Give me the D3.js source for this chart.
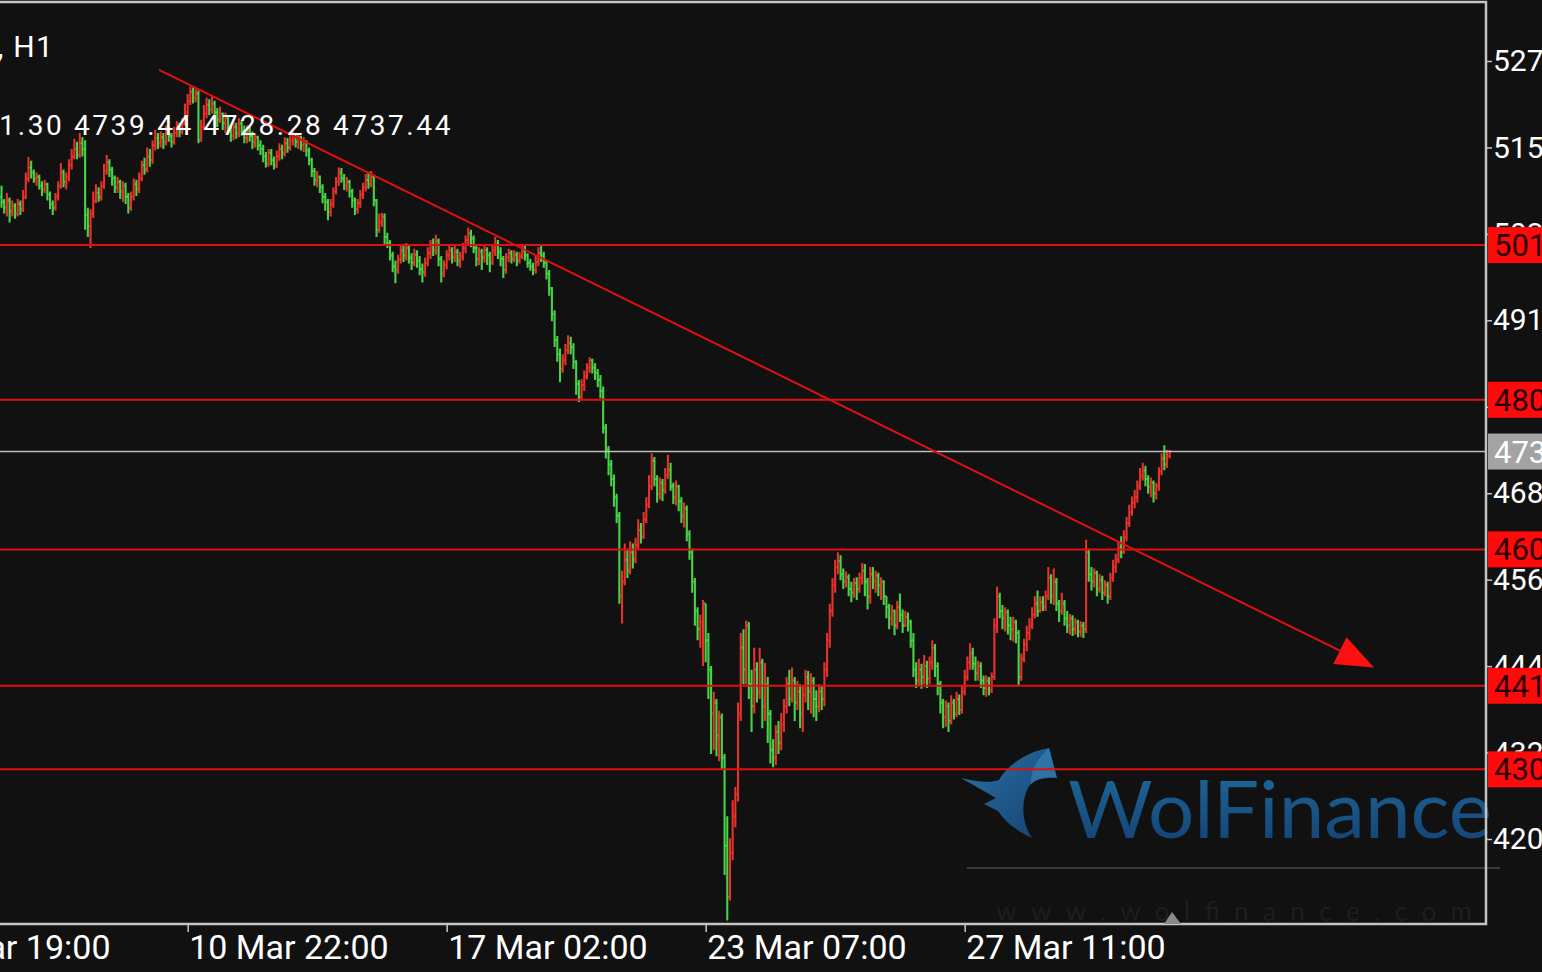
<!DOCTYPE html>
<html><head><meta charset="utf-8">
<script src="https://cdn.jsdelivr.net/npm/d3@7"></script>
<style>html,body{margin:0;padding:0;background:#111111;overflow:hidden}svg{display:block}</style>
</head><body>
<svg id="chart" width="1542" height="972"></svg>
<script>
// ---------------- DATA ----------------
const symbolTitle = "XAUUSD, H1";
const headerOHLC = "4731.30 4739.44 4728.28 4737.44";

const open = [
5085,5078,5070,5080,5065,5072,5062,5075,5068,5085,
5110,5125,5118,5110,5112,5100,5095,5102,5088,5075,
5070,5085,5100,5118,5105,5112,5128,5140,5150,5142,
5158,5150,5060,5045,5062,5080,5090,5084,5100,5120,
5132,5122,5110,5098,5105,5092,5100,5085,5070,5085,
5102,5096,5110,5128,5122,5140,5135,5155,5165,5158,
5166,5160,5175,5168,5160,5172,5180,5174,5185,5200,
5215,5228,5220,5226,5162,5180,5198,5210,5204,5212,
5200,5190,5198,5185,5192,5178,5168,5180,5172,5185,
5175,5165,5175,5168,5160,5166,5155,5150,5140,5130,
5145,5135,5128,5140,5150,5144,5158,5152,5162,5170,
5160,5166,5155,5160,5148,5135,5120,5108,5112,5098,
5085,5078,5064,5075,5092,5105,5118,5110,5100,5105,
5092,5080,5068,5076,5088,5098,5108,5102,5112,5080,
5040,5050,5058,5030,5022,5005,4990,4985,5000,5012,
5005,5015,5002,4995,5006,4998,4986,4982,4995,5008,
5020,5012,5025,5000,4980,4992,5005,5012,5002,5010,
4998,5004,5015,5026,5035,5028,5015,5000,5010,5002,
5012,5005,4995,5012,5020,5010,5000,4985,5002,5008,
5000,5006,4998,5004,5012,5005,4995,4990,4985,4996,
5008,5005,4995,4980,4960,4925,4890,4870,4850,4862,
4876,4885,4880,4860,4830,4812,4828,4840,4852,4862,
4852,4845,4835,4820,4770,4740,4720,4700,4675,4650,
4540,4560,4590,4575,4600,4590,4610,4630,4622,4645,
4665,4690,4725,4700,4680,4695,4685,4705,4712,4690,
4675,4690,4670,4650,4660,4625,4600,4560,4520,4495,
4505,4530,4480,4440,4380,4395,4350,4375,4320,4200,
4130,4190,4240,4270,4380,4470,4440,4500,4420,4390,
4440,4410,4450,4390,4420,4380,4330,4320,4355,4340,
4365,4390,4420,4400,4425,4395,4410,4380,4405,4430,
4410,4425,4400,4390,4410,4400,4440,4480,4520,4555,
4580,4588,4570,4560,4566,4550,4545,4558,4550,4565,
4575,4560,4540,4570,4560,4568,4555,4560,4540,4525,
4510,4520,4500,4525,4515,4500,4512,4505,4480,4440,
4425,4440,4430,4445,4428,4450,4470,4445,4420,4395,
4375,4390,4370,4395,4380,4400,4385,4410,4430,4450,
4462,4448,4435,4445,4425,4415,4425,4412,4430,4500,
4540,4520,4510,4518,4500,4495,4505,4490,4430,4455,
4475,4490,4500,4515,4530,4520,4532,4525,4540,4565,
4540,4560,4530,4520,4530,4510,4500,4510,4495,4505,
4492,4500,4495,4600,4570,4560,4572,4550,4562,4545,
4555,4540,4565,4580,4590,4605,4600,4620,4640,4655,
4668,4675,4690,4705,4712,4700,4690,4695,4680,4690,
4710,4728,4720,4731.3];

const high = [
5100,5082,5090,5084,5080,5076,5082,5080,5094,5118,
5139,5134,5122,5118,5115,5106,5108,5104,5092,5080,
5090,5106,5131,5122,5118,5136,5150,5164,5160,5172,
5166,5162,5070,5068,5092,5102,5098,5106,5130,5142,
5136,5126,5114,5112,5108,5106,5104,5090,5092,5110,
5108,5118,5134,5138,5152,5150,5162,5176,5172,5174,
5172,5182,5180,5172,5180,5188,5186,5192,5212,5225,
5235,5234,5232,5230,5190,5210,5220,5218,5222,5216,
5206,5208,5200,5200,5196,5184,5188,5186,5192,5190,
5182,5182,5180,5174,5172,5168,5162,5156,5146,5150,
5150,5140,5148,5158,5156,5166,5165,5172,5178,5172,
5170,5168,5166,5162,5152,5138,5124,5120,5114,5102,
5090,5082,5082,5098,5112,5125,5124,5116,5112,5108,
5096,5084,5082,5094,5104,5116,5119,5120,5114,5082,
5062,5063,5062,5036,5026,5010,4998,5006,5020,5018,
5022,5020,5008,5014,5012,5004,4994,5002,5016,5026,
5028,5033,5028,5004,4998,5012,5020,5016,5018,5014,
5010,5022,5032,5043,5040,5032,5020,5016,5014,5020,
5016,5010,5018,5030,5026,5016,5004,5008,5014,5012,
5012,5010,5010,5018,5018,5008,5000,4995,5004,5016,
5018,5010,4998,4985,4962,4930,4895,4878,4870,4884,
4896,4894,4885,4862,4835,4836,4848,4858,4866,4864,
4858,4850,4842,4826,4775,4745,4726,4706,4680,4655,
4575,4612,4605,4615,4612,4620,4645,4640,4655,4675,
4705,4735,4730,4705,4702,4700,4715,4733,4722,4695,
4698,4692,4675,4668,4664,4630,4605,4565,4525,4515,
4535,4530,4490,4445,4410,4400,4384,4380,4325,4240,
4210,4262,4280,4395,4490,4495,4507,4505,4440,4470,
4450,4470,4455,4449,4430,4385,4345,4364,4370,4381,
4400,4430,4440,4443,4430,4425,4420,4418,4440,4438,
4435,4430,4412,4420,4418,4450,4490,4530,4565,4590,
4600,4596,4578,4574,4570,4560,4565,4566,4572,4585,
4584,4565,4580,4580,4575,4572,4566,4562,4540,4530,
4528,4522,4534,4544,4522,4520,4518,4508,4490,4450,
4455,4448,4460,4452,4458,4480,4475,4450,4425,4400,
4398,4395,4405,4400,4410,4406,4418,4440,4458,4476,
4470,4458,4452,4450,4432,4432,4430,4436,4510,4553,
4545,4528,4525,4522,4512,4512,4508,4494,4462,4482,
4500,4510,4525,4540,4548,4540,4540,4548,4580,4570,
4578,4565,4535,4545,4535,4520,4516,4514,4510,4508,
4506,4505,4617,4605,4580,4578,4575,4570,4568,4562,
4560,4572,4590,4598,4615,4622,4630,4648,4665,4676,
4685,4698,4715,4722,4718,4705,4702,4698,4695,4716,
4735,4746,4740,4739.44];

const low = [
5070,5062,5058,5050,5058,5055,5058,5060,5064,5082,
5105,5110,5104,5100,5095,5086,5090,5080,5068,5060,
5066,5080,5096,5098,5095,5106,5122,5136,5136,5138,
5140,5040,5030,5015,5056,5076,5078,5080,5096,5115,
5112,5100,5090,5090,5082,5078,5075,5062,5066,5080,
5086,5090,5106,5115,5118,5126,5130,5148,5150,5152,
5150,5155,5160,5152,5156,5166,5166,5170,5182,5195,
5210,5212,5214,5158,5160,5176,5192,5196,5198,5192,
5180,5186,5176,5172,5170,5160,5162,5164,5166,5168,
5158,5158,5160,5150,5152,5148,5142,5132,5125,5126,
5128,5122,5124,5134,5136,5140,5145,5148,5155,5152,
5150,5148,5146,5140,5128,5112,5100,5098,5090,5076,
5066,5053,5058,5070,5088,5100,5104,5094,5092,5084,
5070,5060,5062,5070,5082,5092,5096,5098,5072,5030,
5036,5044,5020,5015,4998,4982,4967,4980,4994,4996,
4998,4994,4985,4990,4988,4978,4968,4976,4990,5000,
5004,5006,4990,4968,4975,4986,4998,4994,4996,4990,
4988,4998,5008,5018,5016,5008,4990,4992,4985,4995,
4992,4982,4992,5004,5000,4990,4974,4980,4996,4994,
4996,4990,4994,5000,4998,4988,4984,4978,4980,4990,
4996,4988,4972,4950,4915,4880,4860,4832,4845,4855,
4870,4870,4850,4815,4805,4808,4820,4836,4845,4844,
4835,4825,4810,4762,4728,4705,4690,4662,4640,4530,
4503,4555,4565,4570,4578,4585,4604,4612,4618,4640,
4660,4685,4690,4668,4672,4670,4680,4700,4684,4666,
4664,4656,4640,4634,4615,4590,4545,4500,4480,4470,
4445,4450,4400,4325,4330,4322,4315,4303,4160,4098,
4125,4180,4225,4260,4370,4420,4420,4400,4355,4380,
4395,4400,4360,4370,4340,4312,4307,4310,4325,4330,
4355,4380,4390,4395,4370,4385,4360,4355,4395,4385,
4380,4375,4370,4382,4385,4390,4430,4470,4512,4545,
4570,4562,4550,4552,4540,4532,4538,4535,4545,4556,
4540,4522,4530,4550,4545,4540,4535,4528,4510,4495,
4500,4487,4495,4505,4490,4498,4492,4470,4430,4415,
4418,4414,4420,4415,4420,4440,4430,4405,4380,4360,
4362,4355,4365,4372,4375,4378,4380,4405,4425,4440,
4440,4425,4425,4415,4405,4403,4405,4408,4426,4490,
4510,4495,4492,4488,4480,4478,4476,4419,4425,4450,
4465,4480,4495,4510,4512,4518,4520,4520,4535,4530,
4528,4520,4505,4515,4500,4490,4488,4486,4488,4484,
4485,4483,4490,4560,4548,4552,4540,4545,4535,4540,
4530,4535,4560,4572,4585,4592,4598,4615,4635,4650,
4660,4668,4685,4698,4690,4680,4675,4668,4672,4684,
4705,4712,4715,4728.28];

const close = [
5078,5070,5080,5065,5072,5062,5075,5068,5085,5110,
5125,5118,5110,5112,5100,5095,5102,5088,5075,5070,
5085,5100,5118,5105,5112,5128,5140,5150,5142,5158,
5150,5060,5045,5062,5080,5090,5084,5100,5120,5132,
5122,5110,5098,5105,5092,5100,5085,5070,5085,5102,
5096,5110,5128,5122,5140,5135,5155,5165,5158,5166,
5160,5175,5168,5160,5172,5180,5174,5185,5200,5215,
5228,5220,5226,5162,5180,5198,5210,5204,5212,5200,
5190,5198,5185,5192,5178,5168,5180,5172,5185,5175,
5165,5175,5168,5160,5166,5155,5150,5140,5130,5145,
5135,5128,5140,5150,5144,5158,5152,5162,5170,5160,
5166,5155,5160,5148,5135,5120,5108,5112,5098,5085,
5078,5064,5075,5092,5105,5118,5110,5100,5105,5092,
5080,5068,5076,5088,5098,5108,5102,5112,5080,5040,
5050,5058,5030,5022,5005,4990,4985,5000,5012,5005,
5015,5002,4995,5006,4998,4986,4982,4995,5008,5020,
5012,5025,5000,4980,4992,5005,5012,5002,5010,4998,
5004,5015,5026,5035,5028,5015,5000,5010,5002,5012,
5005,4995,5012,5020,5010,5000,4985,5002,5008,5000,
5006,4998,5004,5012,5005,4995,4990,4985,4996,5008,
5005,4995,4980,4960,4925,4890,4870,4850,4862,4876,
4885,4880,4860,4830,4812,4828,4840,4852,4862,4852,
4845,4835,4820,4770,4740,4720,4700,4675,4650,4540,
4560,4590,4575,4600,4590,4610,4630,4622,4645,4665,
4690,4725,4700,4680,4695,4685,4705,4712,4690,4675,
4690,4670,4650,4660,4625,4600,4560,4520,4495,4505,
4530,4480,4440,4380,4395,4350,4375,4320,4200,4130,
4190,4240,4270,4380,4470,4440,4500,4420,4390,4440,
4410,4450,4390,4420,4380,4330,4320,4355,4340,4365,
4390,4420,4400,4425,4395,4410,4380,4405,4430,4410,
4425,4400,4390,4410,4400,4440,4480,4520,4555,4580,
4588,4570,4560,4566,4550,4545,4558,4550,4565,4575,
4560,4540,4570,4560,4568,4555,4560,4540,4525,4510,
4520,4500,4525,4515,4500,4512,4505,4480,4440,4425,
4440,4430,4445,4428,4450,4470,4445,4420,4395,4375,
4390,4370,4395,4380,4400,4385,4410,4430,4450,4462,
4448,4435,4445,4425,4415,4425,4412,4430,4500,4540,
4520,4510,4518,4500,4495,4505,4490,4430,4455,4475,
4490,4500,4515,4530,4520,4532,4525,4540,4565,4540,
4560,4530,4520,4530,4510,4500,4510,4495,4505,4492,
4500,4495,4600,4570,4560,4572,4550,4562,4545,4555,
4540,4565,4580,4590,4605,4600,4620,4640,4655,4668,
4675,4690,4705,4712,4700,4690,4695,4680,4690,4710,
4728,4720,4731.3,4737.44];

// price axis tick values
const priceTicks = [5270.10,5152.20,5034.30,4916.40,4798.50,4680.60,4562.70,4444.80,4326.90,4209.00];
// time axis: bar index of each label and its text
const timeTickBars = [-27,69,165,261,357];
const timeTickLabels = ["4 Mar 19:00","10 Mar 22:00","17 Mar 02:00","23 Mar 07:00","27 Mar 11:00"];
// horizontal support / resistance levels
const levelPrices = [5019.00,4808.00,4604.00,4418.00,4304.00];
const lastPrice = 4737.44;
// trend line (bar index, price) start and end
const trendBars = [58.4, 508.7];
const trendPrices = [5258, 4443];

// ---------------- LAYOUT ----------------
const W = 1542, H = 972;
const plotLeft = -10, plotRight = 1486, plotTop = 2, plotBottom = 924;
const upColor = "#e8312a", downColor = "#46d446", lineRed = "#e01010";

const svg = d3.select("#chart");
svg.append("rect").attr("width", W).attr("height", H).attr("fill", "#111111");

const x = d3.scaleLinear().domain([0, 1]).range([1.5, 1.5 + 2.698]);
const y = d3.scaleLinear().domain([4209, 5270.1]).range([839, 61]);

const defs = svg.append("defs");
defs.append("clipPath").attr("id", "plotClip").append("rect")
  .attr("x", 0).attr("y", plotTop).attr("width", plotRight).attr("height", plotBottom - plotTop);
const g1 = defs.append("linearGradient").attr("id", "wfText").attr("x1", 0).attr("y1", 0).attr("x2", 0).attr("y2", 1);
g1.append("stop").attr("offset", "0%").attr("stop-color", "#1f6c9c");
g1.append("stop").attr("offset", "100%").attr("stop-color", "#123f72");
const g2 = defs.append("linearGradient").attr("id", "wfLogo").attr("x1", 0).attr("y1", 0).attr("x2", 1).attr("y2", 1);
g2.append("stop").attr("offset", "0%").attr("stop-color", "#2a73a6");
g2.append("stop").attr("offset", "100%").attr("stop-color", "#143f70");

// ---------------- WATERMARK ----------------
const wm = svg.append("g");
wm.append("path")
  .attr("d", "M1049,748 L1057,778 C1042,777 1031,780 1027,790 C1021,804 1022,823 1032,838 C1017,831 1005,822 998,811 L984,804 L996,798 L961,778 C976,782 990,783 999,780 C1006,767 1025,752 1049,748 Z")
  .attr("fill", "url(#wfLogo)");
wm.append("path")
  .attr("d", "M1049,748 C1036,760 1030,772 1031,784 C1038,778 1047,776 1057,778 Z")
  .attr("fill", "#3a86b8").attr("opacity", 0.6);
wm.append("text").attr("x", 1068).attr("y", 838)
  .attr("font-family", "Lato, 'Open Sans', sans-serif").attr("font-size", 80)
  .attr("textLength", 424).attr("lengthAdjust", "spacingAndGlyphs")
  .attr("fill", "url(#wfText)").text("WolFinance");
wm.append("line").attr("x1", 967).attr("x2", 1500).attr("y1", 868).attr("y2", 868)
  .attr("stroke", "#4a4a4a").attr("stroke-width", 1.5);
wm.append("text").attr("x", 996).attr("y", 921)
  .attr("font-family", "Lato, sans-serif").attr("font-size", 26)
  .attr("textLength", 476).attr("lengthAdjust", "spacing")
  .attr("fill", "#1e1e1e").text("www.wolfinance.com");

// ---------------- BARS ----------------
const bars = d3.range(close.length).map(i => ({i, o: open[i], h: high[i], l: low[i], c: close[i]}));
const plot = svg.append("g").attr("clip-path", "url(#plotClip)");
plot.append("g").selectAll("path").data(bars).join("path")
  .attr("d", d => {
    const cx = x(d.i);
    return `M${cx},${y(d.h)}V${y(d.l)}M${cx - 1.4},${y(d.o)}H${cx}M${cx},${y(d.c)}H${cx + 1.4}`;
  })
  .attr("fill", "none")
  .attr("stroke", d => d.c >= d.o ? upColor : downColor)
  .attr("stroke-width", 2.1);

// horizontal levels
plot.append("g").selectAll("line").data(levelPrices).join("line")
  .attr("x1", 0).attr("x2", plotRight).attr("y1", d => y(d)).attr("y2", d => y(d))
  .attr("stroke", lineRed).attr("stroke-width", 2);
// last price line
plot.append("line").attr("x1", 0).attr("x2", plotRight)
  .attr("y1", y(lastPrice)).attr("y2", y(lastPrice))
  .attr("stroke", "#bdbdbd").attr("stroke-width", 1.5);

// trend line with arrow
const tx0 = x(trendBars[0]), ty0 = y(trendPrices[0]);
const tx1 = x(trendBars[1]), ty1 = y(trendPrices[1]);
const ang = Math.atan2(ty1 - ty0, tx1 - tx0);
const aLen = 38, aHalf = 15;
const bx = tx1 - aLen * Math.cos(ang), by = ty1 - aLen * Math.sin(ang);
plot.append("line").attr("x1", tx0).attr("y1", ty0).attr("x2", bx).attr("y2", by)
  .attr("stroke", lineRed).attr("stroke-width", 2);
plot.append("path")
  .attr("d", `M${tx1},${ty1}L${bx + aHalf * Math.sin(ang)},${by - aHalf * Math.cos(ang)}L${bx - aHalf * Math.sin(ang)},${by + aHalf * Math.cos(ang)}Z`)
  .attr("fill", "#ff1010");

// ---------------- AXES ----------------
const yAxis = svg.append("g").attr("transform", `translate(${plotRight},0)`)
  .call(d3.axisRight(y).tickValues(priceTicks).tickSize(6).tickPadding(1).tickFormat(d3.format(".2f")));
yAxis.select(".domain").remove();
yAxis.selectAll("line").attr("stroke", "#c8c8c8").attr("stroke-width", 1.5);
yAxis.selectAll("text").attr("fill", "#ffffff").attr("font-family", "Roboto, sans-serif")
  .attr("font-size", 30);

const xAxis = svg.append("g").attr("transform", `translate(0,${plotBottom})`)
  .call(d3.axisBottom(x).tickValues(timeTickBars).tickSize(8).tickPadding(3)
    .tickFormat((d, k) => timeTickLabels[k]));
xAxis.select(".domain").remove();
xAxis.selectAll("line").attr("stroke", "#c8c8c8").attr("stroke-width", 1.5);
xAxis.selectAll("text").attr("fill", "#ffffff").attr("font-family", "Roboto, sans-serif")
  .attr("font-size", 34).attr("text-anchor", "start").attr("dx", 1);

// level labels
const lvl = svg.append("g").selectAll("g").data(levelPrices).join("g")
  .attr("transform", d => `translate(1488,${y(d)})`);
lvl.append("rect").attr("x", 0).attr("y", -18).attr("width", 80).attr("height", 36).attr("fill", "#ff0a0a");
lvl.append("text").attr("x", 6).attr("y", 11).attr("fill", "#2a0000")
  .attr("font-family", "Roboto, sans-serif").attr("font-size", 31).text(d => d.toFixed(2));
const lp = svg.append("g").attr("transform", `translate(1488,${y(lastPrice)})`);
lp.append("rect").attr("x", 0).attr("y", -18).attr("width", 80).attr("height", 36).attr("fill", "#a3a3a3");
lp.append("text").attr("x", 6).attr("y", 11).attr("fill", "#ffffff")
  .attr("font-family", "Roboto, sans-serif").attr("font-size", 31).text(lastPrice.toFixed(2));

// plot frame
svg.append("rect").attr("x", plotLeft).attr("y", plotTop).attr("width", plotRight - plotLeft).attr("height", plotBottom - plotTop)
  .attr("fill", "none").attr("stroke", "#c4c4c4").attr("stroke-width", 2.5);
// chart shift marker
svg.append("path").attr("d", "M1164,924 L1172,912 L1181,924 Z").attr("fill", "#8a8a8a");

// header texts
svg.append("text").attr("x", 54).attr("y", 57).attr("text-anchor", "end")
  .attr("font-family", "Roboto, sans-serif").attr("font-size", 30).attr("letter-spacing", 1.2)
  .attr("fill", "#ffffff").text(symbolTitle);
svg.append("text").attr("x", 453).attr("y", 135).attr("text-anchor", "end")
  .attr("font-family", "Roboto, sans-serif").attr("font-size", 28).attr("letter-spacing", 2.6)
  .attr("fill", "#ffffff").text(headerOHLC);
</script>
</body></html>
